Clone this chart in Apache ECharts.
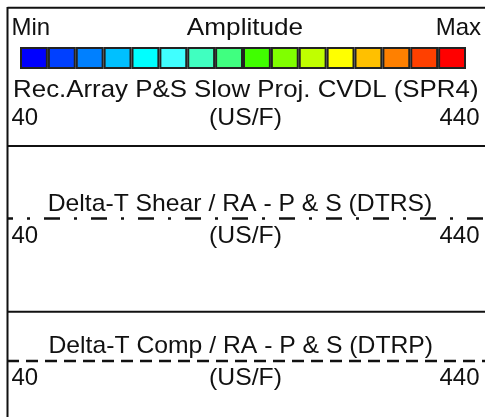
<!DOCTYPE html>
<html>
<head>
<meta charset="utf-8">
<script src="https://cdn.jsdelivr.net/npm/echarts@6/dist/echarts.min.js"></script>
<style>
  html, body { margin: 0; padding: 0; background: #fff; }
  #main { width: 485px; height: 417px; }
</style>
</head>
<body>
<div id="main"></div>
<script>
// amplitude colour scale (min -> max)
const ampColors = ['#0000ff', '#0040ff', '#0080ff', '#00c0ff', '#00ffff', '#40ffff', '#40ffc0', '#40ff80',
  '#40ff00', '#80ff00', '#c0ff00', '#ffff00', '#ffc000', '#ff8000', '#ff4000', '#ff0000'];
const ampLevels = [1, 2, 3, 4, 5, 6, 7, 8, 9, 10, 11, 12, 13, 14, 15, 16];
const ampCells = [1, 1, 1, 1, 1, 1, 1, 1, 1, 1, 1, 1, 1, 1, 1, 1];
const ampLabels = ['Min', 'Amplitude', 'Max'];

// tracks
const trackTitles = ['Rec.Array P&S Slow Proj. CVDL (SPR4)', 'Delta-T Shear / RA - P & S (DTRS)', 'Delta-T Comp / RA - P & S (DTRP)'];
const trackUnits = ['(US/F)', '(US/F)', '(US/F)'];
const trackMin = [40, 40, 40];
const trackMax = [440, 440, 440];

const font = '24px "Liberation Sans", Arial, sans-serif';
const ink = '#111';

let myChart = echarts.init(document.getElementById('main'));

function txt(text, x, y, align, sx) {
  return {
    type: 'text', x: x, y: y, scaleX: sx || 1,
    style: { text: text, x: 0, y: 0, font: font, fill: ink, align: align, verticalAlign: 'middle' }
  };
}
function hline(y) {
  return { type: 'line', shape: { x1: 7.5, y1: y, x2: 485, y2: y }, style: { stroke: ink, lineWidth: 2 } };
}

// rows of the header (y of text middles)
const titleY = [90, 204.6, 346.5];
const rangeY = [118, 236.5, 378];
const titleX = [245.8, 240, 240.8];
const titleSx = [1.077, 1.03, 1.03];

const graphics = [
  { type: 'line', shape: { x1: 7.5, y1: 7, x2: 7.5, y2: 417 }, style: { stroke: ink, lineWidth: 2 } },
  hline(7.7), hline(146), hline(311.8),
  txt(ampLabels[0], 11.5, 28, 'left'),
  txt(ampLabels[1], 245, 28, 'center', 1.09),
  txt(ampLabels[2], 481, 28, 'right')
];
for (let i = 0; i < 3; i++) {
  graphics.push(txt(trackTitles[i], titleX[i], titleY[i], 'center', titleSx[i]));
  graphics.push(txt(String(trackMin[i]), 11.5, rangeY[i], 'left'));
  graphics.push(txt(trackUnits[i], 245.5, rangeY[i], 'center', 1.03));
  graphics.push(txt(String(trackMax[i]), 479.5, rangeY[i], 'right'));
}

const option = {
  animation: false,
  grid: [
    { left: 20, width: 446, top: 47, height: 22 },
    { left: 7, right: 0, top: 208.5, height: 20 },
    { left: 7, right: 0, top: 351, height: 20 }
  ],
  xAxis: [
    { gridIndex: 0, type: 'category', data: ampLevels, show: false },
    { gridIndex: 1, type: 'value', min: trackMin[1], max: trackMax[1], show: false },
    { gridIndex: 2, type: 'value', min: trackMin[2], max: trackMax[2], show: false }
  ],
  yAxis: [
    { gridIndex: 0, type: 'value', min: 0, max: 1, show: false },
    { gridIndex: 1, type: 'value', min: 0, max: 1, show: false },
    { gridIndex: 2, type: 'value', min: 0, max: 1, show: false }
  ],
  series: [
    {
      type: 'bar', xAxisIndex: 0, yAxisIndex: 0, barCategoryGap: '0%',
      data: ampCells.map((v, i) => ({ value: v, itemStyle: { color: ampColors[i] } })),
      itemStyle: { borderColor: '#222', borderWidth: 2 }
    },
    {
      type: 'line', xAxisIndex: 1, yAxisIndex: 1, symbol: 'none',
      data: [[trackMin[1], 0.5], [trackMax[1], 0.5]],
      lineStyle: { color: ink, width: 2.5, type: [16, 14, 3, 14], dashOffset: 10 }
    },
    {
      type: 'line', xAxisIndex: 2, yAxisIndex: 2, symbol: 'none',
      data: [[trackMin[2], 0.5], [trackMax[2], 0.5]],
      lineStyle: { color: ink, width: 2.5, type: [12, 7] }
    }
  ],
  graphic: graphics
};

myChart.setOption(option);
</script>
</body>
</html>
